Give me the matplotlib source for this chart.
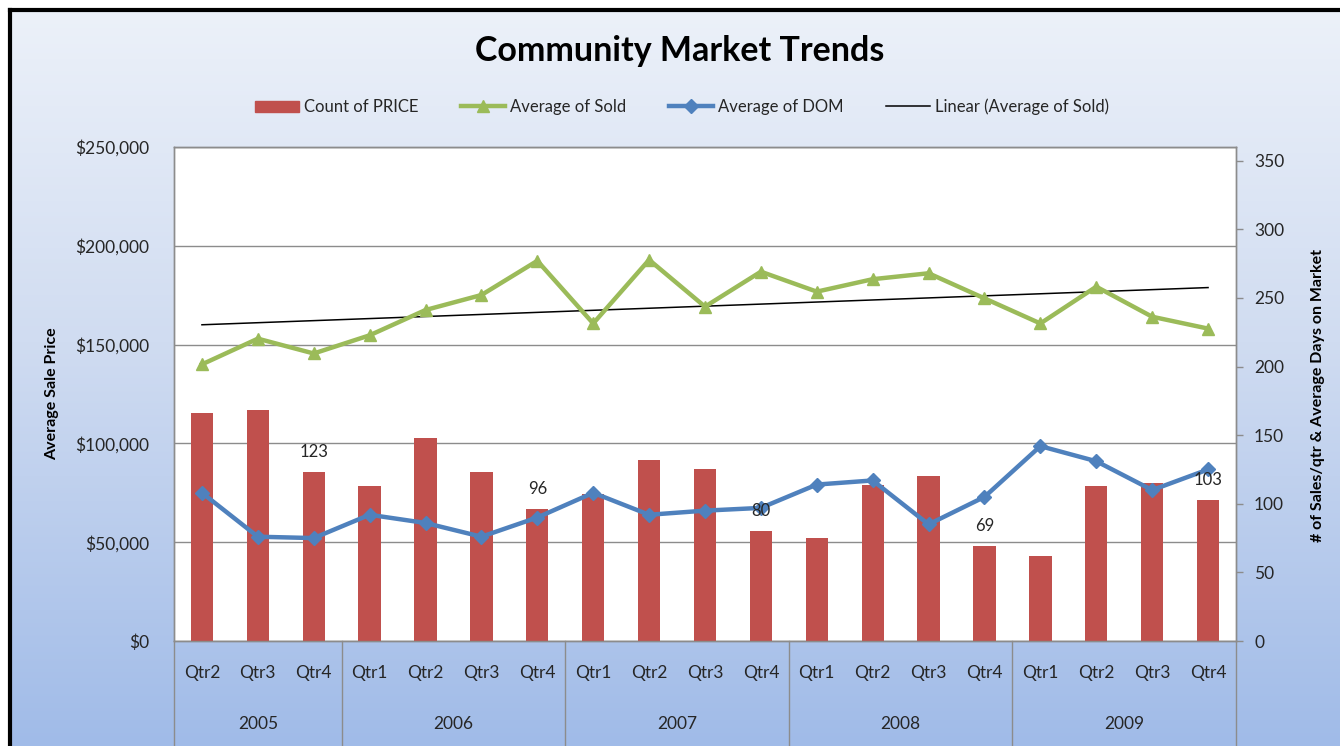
import numpy as np
import matplotlib
matplotlib.use("Agg")
import matplotlib.pyplot as plt
from matplotlib.patches import Patch
from matplotlib.lines import Line2D

plt.rcParams['font.family'] = ['Lato', 'DejaVu Sans']

# ---- data -------------------------------------------------------------
quarters = ["Qtr2", "Qtr3", "Qtr4",
            "Qtr1", "Qtr2", "Qtr3", "Qtr4",
            "Qtr1", "Qtr2", "Qtr3", "Qtr4",
            "Qtr1", "Qtr2", "Qtr3", "Qtr4",
            "Qtr1", "Qtr2", "Qtr3", "Qtr4"]
years = ["2005", "2006", "2007", "2008", "2009"]
quarters_per_year = [3, 4, 4, 4, 4]

count_of_price = [166, 168, 123,
                  113, 148, 123, 96,
                  107, 132, 125, 80,
                  75, 114, 120, 69,
                  62, 113, 115, 103]

average_of_sold = [140000, 153000, 145500,
                   154700, 167500, 175100, 192400,
                   160700, 192900, 169200, 186900,
                   176800, 183100, 186100, 173400,
                   160700, 179300, 164100, 158100]

average_of_dom = [108, 76, 75,
                  92, 86, 76, 90,
                  108, 92, 95, 97,
                  114, 117, 85,
                  105, 142, 131, 110, 125]

labelled_bars = [2, 6, 10, 14, 18]   # year-end quarters carry a value label

# ---- colours ------------------------------------------------------------
RED = "#C0504D"
GREEN = "#9BBB59"
BLUE = "#4F81BD"
GRID = "#8C8C8C"
TEXT = "#262626"

W, H = 1340, 746
fig = plt.figure(figsize=(W / 100, H / 100), dpi=100)
fig.patch.set_facecolor("white")

# ---- gradient backdrop with the dark frame -----------------------------
bg = fig.add_axes([0, 0, 1, 1])
bg.set_zorder(-1)
bg.set_xlim(0, W)
bg.set_ylim(H, 0)
bg.axis("off")
stops = np.array([[0.00, 236, 241, 249],
                  [0.45, 208, 220, 241],
                  [1.00, 160, 187, 232]])
t = np.linspace(0, 1, 300)
grad = np.stack([np.interp(t, stops[:, 0], stops[:, k]) for k in (1, 2, 3)], axis=1) / 255
bg.imshow(grad[:, None, :], extent=(11, W, H, 11), aspect="auto", interpolation="bicubic")
bg.plot([10, 10], [10, H], color="black", lw=3.0, solid_capstyle="projecting")
bg.plot([10, W], [10, 10], color="black", lw=3.0, solid_capstyle="projecting")

# ---- main plot area ---------------------------------------------------
left, right, top, bottom = 174, 1236, 147, 641
ax = fig.add_axes([left / W, 1 - bottom / H, (right - left) / W, (bottom - top) / H])
ax.set_facecolor("white")
ax2 = ax.twinx()

x = np.arange(len(quarters))

# bars and days-on-market on the right-hand scale
ax2.bar(x, count_of_price, width=0.4, color=RED, zorder=2)
ax2.plot(x, average_of_dom, color=BLUE, lw=3.2, marker="D", markersize=7.5,
         markerfacecolor=BLUE, markeredgecolor=BLUE, zorder=3)
for i in labelled_bars:
    ax2.annotate(str(count_of_price[i]), (x[i], count_of_price[i]),
                 xytext=(0, 14.5), textcoords="offset points",
                 ha="center", va="center", fontsize=12, color=TEXT, zorder=5)

# sale price and its linear trend on the left-hand scale
slope, intercept = np.polyfit(x, average_of_sold, 1)
ax.plot(x, slope * x + intercept, color="black", lw=1.1, zorder=3)
ax.plot(x, average_of_sold, color=GREEN, lw=3.2, marker="^", markersize=8,
        markerfacecolor=GREEN, markeredgecolor=GREEN, zorder=4)

ax.set_xlim(-0.5, len(quarters) - 0.5)
ax.set_ylim(0, 250000)
ax2.set_ylim(0, 360)

ax.set_yticks(np.arange(0, 250001, 50000))
ax.set_yticklabels([f"${v:,.0f}" for v in np.arange(0, 250001, 50000)])
ax.yaxis.grid(True, color=GRID, lw=1.0)
ax.set_axisbelow(True)
ax.tick_params(axis="y", length=0, pad=18, labelsize=12.5, labelcolor=TEXT)

ax2.set_yticks(np.arange(0, 351, 50))
ax2.tick_params(axis="y", length=5, width=1, color=GRID, pad=8,
                labelsize=12.5, labelcolor=TEXT, direction="out")

for a in (ax, ax2):
    for s in a.spines.values():
        s.set_color(GRID)
        s.set_linewidth(1.0)

# two-level category axis: quarters, then years, split by separators
ax.set_xticks(x)
ax.set_xticklabels(quarters)
ax.tick_params(axis="x", length=0, pad=17, labelsize=12.5, labelcolor=TEXT)
band = -(H - bottom + 2) / (bottom - top)
start = -0.5
for yr, n in zip(years, quarters_per_year):
    ax.text(start + n / 2, -83 / (bottom - top), yr, transform=ax.get_xaxis_transform(),
            ha="center", va="center", fontsize=12.5, color=TEXT)
    start += n
bounds = np.concatenate([[-0.5], -0.5 + np.cumsum(quarters_per_year)])
for b in bounds:
    ax.plot([b, b], [0, band], transform=ax.get_xaxis_transform(),
            color=GRID, lw=1.0, clip_on=False)

# axis titles
fig.text(52 / W, 1 - 394 / H, "Average Sale Price", rotation=90,
         ha="center", va="center", fontsize=11.5, fontweight="bold", color="black")
fig.text(1318 / W, 1 - 395 / H, "# of Sales/qtr & Average Days on Market", rotation=90,
         ha="center", va="center", fontsize=11.5, fontweight="bold", color="black")

fig.text(680 / W, 1 - 51 / H, "Community Market Trends", ha="center", va="center",
         fontsize=24.5, fontweight="bold", color="black")

handles = [Patch(facecolor=RED, edgecolor=RED),
           Line2D([], [], color=GREEN, lw=3.2, marker="^", markersize=8),
           Line2D([], [], color=BLUE, lw=3.2, marker="D", markersize=7),
           Line2D([], [], color="black", lw=1.1)]
labels = ["Count of PRICE", "Average of Sold", "Average of DOM", "Linear (Average of Sold)"]
fig.legend(handles, labels, loc="center", bbox_to_anchor=(682 / W, 1 - 107 / H),
           ncol=4, frameon=False, fontsize=12, handlelength=2.6, handletextpad=0.3,
           columnspacing=2.6, labelcolor=TEXT)

fig.savefig("out.png", dpi=100)
